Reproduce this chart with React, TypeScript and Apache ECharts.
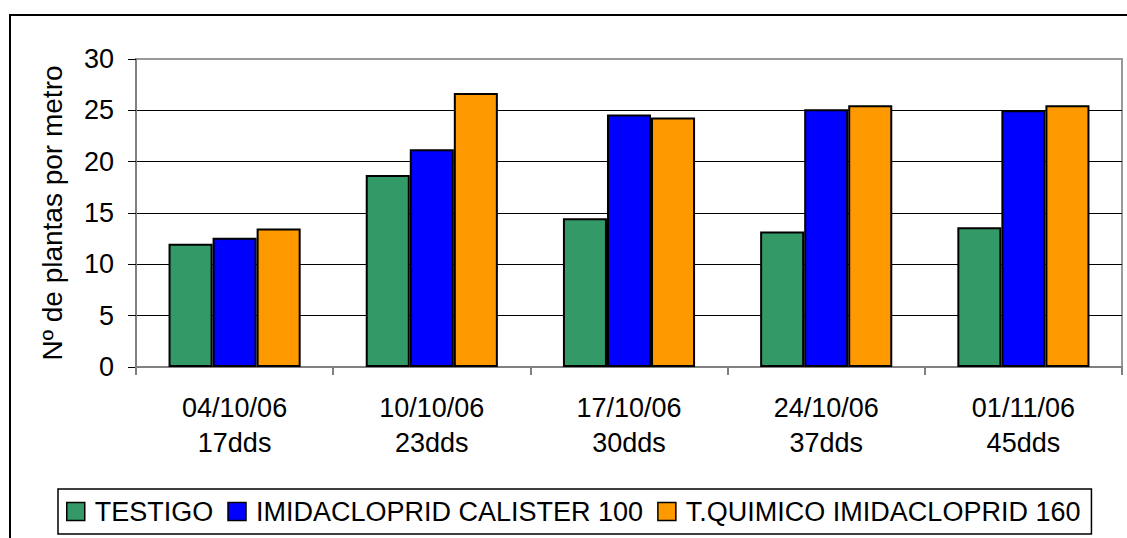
import React, { useEffect, useRef } from "react";
import * as echarts from "echarts";

const categories = ["04/10/06\n17dds", "10/10/06\n23dds", "17/10/06\n30dds", "24/10/06\n37dds", "01/11/06\n45dds"];
const seriesNames = ["TESTIGO", "IMIDACLOPRID CALISTER 100", "T.QUIMICO IMIDACLOPRID 160"];
const testigo = [12.0, 18.7, 14.5, 13.2, 13.6];
const calister = [12.6, 21.2, 24.6, 25.1, 25.0];
const quimico = [13.5, 26.7, 24.3, 25.5, 25.5];
const colors = ["#339966", "#0000FF", "#FF9900"];
const yTicks = { min: 0, max: 30, interval: 5 };

const FONT = "'Liberation Sans', Arial, sans-serif";

export default function App() {
  const ref = useRef<HTMLDivElement>(null);
  useEffect(() => {
    if (!ref.current) return;
    const chart = echarts.init(ref.current, undefined, { renderer: "svg" });
    const data = [testigo, calister, quimico];
    chart.setOption({
      animation: false,
      textStyle: { fontFamily: FONT, color: "#000" },
      grid: { left: 136, top: 59, right: 5, bottom: 171, show: true, borderColor: "#999", borderWidth: 2, backgroundColor: "transparent" },
      graphic: [
        { type: "rect", shape: { x: 10, y: 15, width: 1300, height: 700 }, style: { fill: "none", stroke: "#000", lineWidth: 2 } },
      ],
      legend: {
        left: 58,
        top: 489,
        orient: "horizontal",
        padding: [9, 11, 9, 8],
        borderColor: "#000",
        borderWidth: 1.5,
        itemWidth: 18,
        itemHeight: 18,
        itemGap: 14,
        icon: "rect",
        itemStyle: { borderColor: "#000", borderWidth: 1.5 },
        textStyle: { fontSize: 27, fontFamily: FONT, color: "#000", padding: [0, 0, 0, 5] },
        data: seriesNames,
      },
      xAxis: {
        type: "category",
        data: categories,
        axisLine: { lineStyle: { color: "#808080", width: 2 } },
        axisTick: { show: true, length: 8, interval: 0, alignWithLabel: false, lineStyle: { color: "#808080", width: 2 } },
        axisLabel: { fontSize: 27, fontFamily: FONT, color: "#000", lineHeight: 35, margin: 23, interval: 0 },
      },
      yAxis: {
        type: "value",
        min: yTicks.min,
        max: yTicks.max,
        interval: yTicks.interval,
        name: "Nº de plantas por metro",
        nameLocation: "middle",
        nameRotate: 90,
        nameGap: 70,
        nameTextStyle: { fontSize: 28, fontFamily: FONT, color: "#000" },
        axisLine: { show: true, lineStyle: { color: "#808080", width: 2 } },
        axisTick: { show: true, length: 8, lineStyle: { color: "#000", width: 1 } },
        axisLabel: { fontSize: 27, fontFamily: FONT, color: "#000", margin: 22 },
        splitLine: { show: true, showMinLine: false, showMaxLine: false, lineStyle: { color: "#000", width: 1 } },
      },
      series: data.map((d, i) => ({
        name: seriesNames[i],
        type: "bar",
        data: d,
        barGap: "0%",
        barCategoryGap: "33%",
        itemStyle: { color: colors[i], borderColor: "#000", borderWidth: 2 },
      })),
    });
    return () => chart.dispose();
  }, []);
  return <div ref={ref} style={{ position: "absolute", left: 0, top: 0, width: 1127, height: 538 }} />;
}
